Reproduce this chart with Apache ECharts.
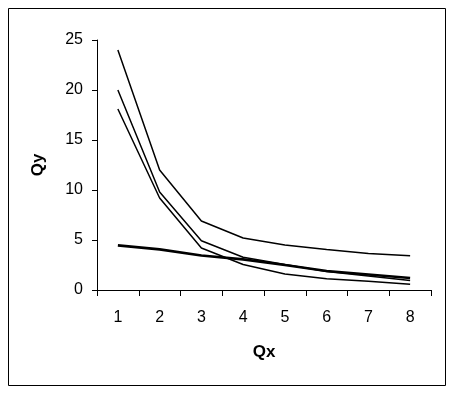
<!DOCTYPE html>
<html>
<head>
<meta charset="utf-8">
<script src="https://cdn.jsdelivr.net/npm/echarts@6/dist/echarts.min.js"></script>
<style>html,body{margin:0;padding:0;background:#fff;}#c{width:454px;height:393px;}</style>
</head>
<body>
<div id="c"></div>
<script>
var categories = ['1','2','3','4','5','6','7','8'];
var seriesA = [24, 12, 6.9, 5.2, 4.5, 4.05, 3.65, 3.43];
var seriesB = [20, 9.8, 4.93, 3.27, 2.55, 1.85, 1.4, 0.95];
var seriesC = [18.1, 9.2, 4.2, 2.55, 1.6, 1.13, 0.87, 0.57];
var seriesD = [4.47, 4.07, 3.45, 3.07, 2.5, 1.9, 1.55, 1.2];
var yTicks = [0, 5, 10, 15, 20, 25];

var chart = echarts.init(document.getElementById('c'), null, {renderer: 'canvas'});
var font = 'Liberation Sans, Arial, sans-serif';
function line(data, w) {
  return {type: 'line', data: data, symbol: 'none', smooth: false,
    lineStyle: {color: '#000', width: w}, itemStyle: {color: '#000'}, animation: false};
}
chart.setOption({
  animation: false,
  graphic: [{type: 'rect', shape: {x: 8.5, y: 8.5, width: 437, height: 377},
    style: {fill: 'none', stroke: '#000', lineWidth: 1}}],
  grid: {left: 97, right: 23, top: 40, bottom: 103},
  xAxis: {
    type: 'category', data: categories, boundaryGap: true,
    name: 'Qx', nameLocation: 'middle', nameGap: 54,
    nameTextStyle: {fontFamily: font, fontSize: 17, fontWeight: 'bold', color: '#000'},
    axisLine: {lineStyle: {color: '#000', width: 1}},
    axisTick: {show: true, length: 6, lineStyle: {color: '#000'}},
    axisLabel: {fontFamily: font, fontSize: 16, color: '#000', margin: 20},
    splitLine: {show: false}
  },
  yAxis: {
    type: 'value', min: yTicks[0], max: yTicks[yTicks.length - 1], interval: 5,
    name: 'Qy', nameLocation: 'middle', nameGap: 50,
    nameTextStyle: {fontFamily: font, fontSize: 17, fontWeight: 'bold', color: '#000'},
    axisLine: {show: true, lineStyle: {color: '#000', width: 1}},
    axisTick: {show: true, length: 5, lineStyle: {color: '#000'}},
    axisLabel: {fontFamily: font, fontSize: 16, color: '#000', margin: 14},
    splitLine: {show: false}
  },
  series: [line(seriesA, 1.5), line(seriesB, 1.5), line(seriesC, 1.5), line(seriesD, 2.7)]
});
</script>
</body>
</html>
